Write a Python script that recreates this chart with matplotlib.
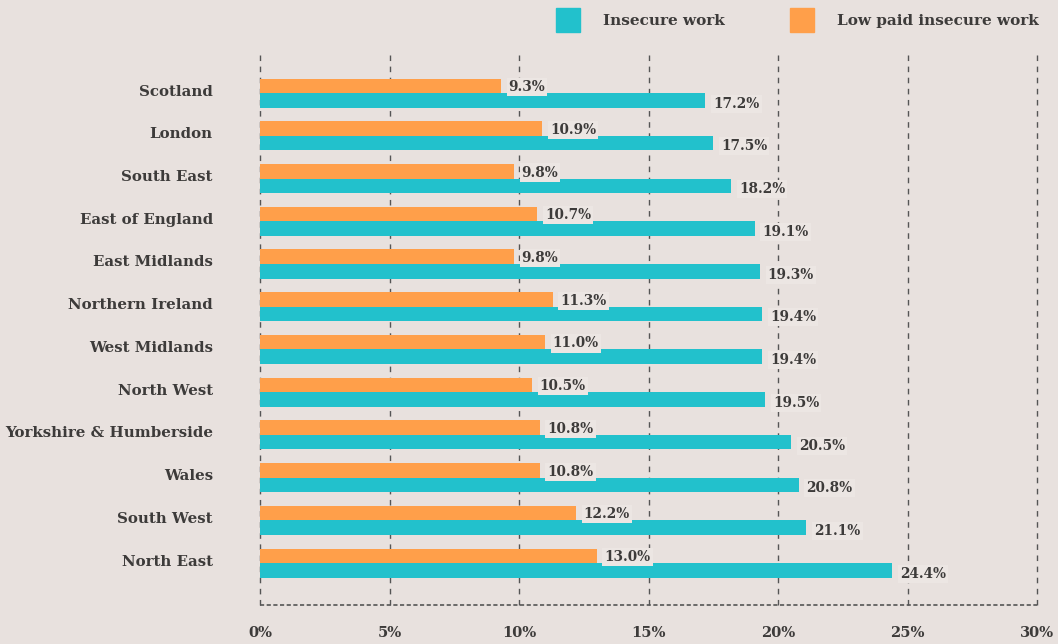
import matplotlib.pyplot as plt
import matplotlib.transforms as mtransforms
import numpy as np
from matplotlib.patches import Rectangle

regions = ["Scotland", "London", "South East", "East of England", "East Midlands",
           "Northern Ireland", "West Midlands", "North West", "Yorkshire & Humberside",
           "Wales", "South West", "North East"]
insecure = [17.2, 17.5, 18.2, 19.1, 19.3, 19.4, 19.4, 19.5, 20.5, 20.8, 21.1, 24.4]
low_paid = [9.3, 10.9, 9.8, 10.7, 9.8, 11.3, 11.0, 10.5, 10.8, 10.8, 12.2, 13.0]
xticks = [0, 5, 10, 15, 20, 25, 30]

bg = '#e8e1de'
teal = '#22c1cc'
orange = '#ff9f4a'
txt = '#3d3b3a'
font = 'DejaVu Serif'

fig = plt.figure(figsize=(10.58, 6.44), dpi=100, facecolor=bg)
ax = fig.add_axes([260/1058, 1 - 605/644, (1037-260)/1058, (605-55)/644])
ax.set_facecolor(bg)

y = np.arange(len(regions))
h = 0.34
ax.barh(y - h/2, low_paid, height=h, color=orange, zorder=2)
ax.barh(y + h/2, insecure, height=h, color=teal, zorder=2)

for t in xticks:
    ax.axvline(t, color='#555555', lw=1, ls=(0, (4, 4)), zorder=1, clip_on=False)
ax.axhline(11.98, color='#555555', lw=1.2, ls=(0, (2.5, 1.5)), zorder=1, clip_on=False)

box = dict(facecolor='#ece6e3', edgecolor='none', pad=1.5)
for i in range(len(regions)):
    ax.text(low_paid[i] + 0.3, y[i] - h/2 + 0.03, f"{low_paid[i]:.1f}%", va='center', ha='left',
            fontsize=9.8, fontweight='bold', color=txt, family=font, bbox=box, zorder=3)
    ax.text(insecure[i] + 0.3, y[i] + h/2 + 0.08, f"{insecure[i]:.1f}%", va='center', ha='left',
            fontsize=9.8, fontweight='bold', color=txt, family=font, bbox=box, zorder=3)

ax.set_xlim(0, 30)
ax.set_ylim(11.98, -0.89)
ax.set_yticks(y)
ax.set_yticklabels(regions, fontsize=10.8, fontweight='bold', color=txt, family=font)
ax.set_xticks(xticks)
ax.set_xticklabels([f"{t}%" for t in xticks], fontsize=10.5, fontweight='bold', color=txt, family=font)
ax.tick_params(axis='y', length=0, pad=34)
ax.tick_params(axis='x', length=0, pad=15)
shift = mtransforms.ScaledTranslation(0, 3/100, fig.dpi_scale_trans)
for lab in ax.get_yticklabels():
    lab.set_transform(lab.get_transform() + shift)
for s in ax.spines.values():
    s.set_visible(False)

# legend
for x0, col, label in [(556, teal, "Insecure work"), (790, orange, "Low paid insecure work")]:
    fig.patches.append(Rectangle((x0/1058, 1 - 32/644), 24/1058, 24/644,
                                 transform=fig.transFigure, color=col))
    fig.text((x0 + 47)/1058, 1 - 21/644, label, fontsize=11, fontweight='bold',
             color=txt, family=font, va='center', ha='left')

fig.savefig('out.png', dpi=100, facecolor=bg)
